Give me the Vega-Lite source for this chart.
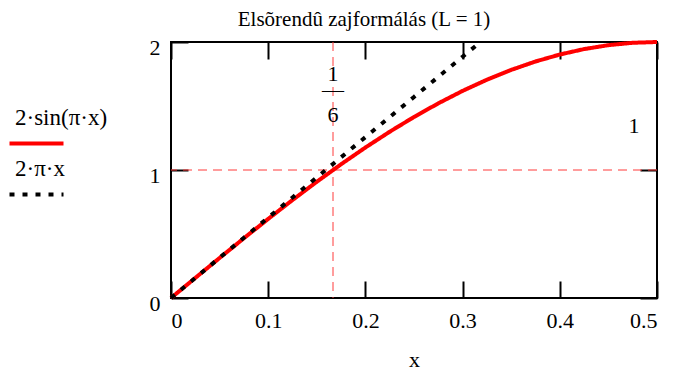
{
  "$schema": "https://vega.github.io/schema/vega-lite/v6.json",
  "width": 486,
  "height": 256,
  "autosize": {"type": "none"},
  "padding": {"left": 171, "top": 42, "right": 19, "bottom": 73},
  "background": "white",
  "title": {
    "text": "Elsõrendû zajformálás (L = 1)",
    "font": "Liberation Serif",
    "fontSize": 21,
    "fontWeight": "normal",
    "color": "black",
    "anchor": "middle",
    "baseline": "alphabetic",
    "dx": -50,
    "offset": -13
  },
  "config": {
    "view": {"stroke": "black", "strokeWidth": 2},
    "axis": {
      "domain": false,
      "grid": false,
      "tickColor": "black",
      "tickWidth": 2,
      "tickSize": -17,
      "labelFont": "Liberation Serif",
      "labelFontSize": 22,
      "labelColor": "black",
      "titleFont": "Liberation Serif",
      "titleFontSize": 22,
      "titleFontWeight": "normal",
      "titleColor": "black"
    },
    "legend": {
      "labelFont": "Liberation Serif",
      "labelFontSize": 23,
      "labelColor": "black"
    }
  },
  "datasets": {
    "curves": [
      {"x": 0.0, "y": 0.0, "f": "2·sin(π·x)"},
      {"x": 0.025, "y": 0.1569, "f": "2·sin(π·x)"},
      {"x": 0.05, "y": 0.3129, "f": "2·sin(π·x)"},
      {"x": 0.075, "y": 0.4669, "f": "2·sin(π·x)"},
      {"x": 0.1, "y": 0.618, "f": "2·sin(π·x)"},
      {"x": 0.125, "y": 0.7654, "f": "2·sin(π·x)"},
      {"x": 0.15, "y": 0.908, "f": "2·sin(π·x)"},
      {"x": 0.175, "y": 1.045, "f": "2·sin(π·x)"},
      {"x": 0.2, "y": 1.1756, "f": "2·sin(π·x)"},
      {"x": 0.225, "y": 1.2989, "f": "2·sin(π·x)"},
      {"x": 0.25, "y": 1.4142, "f": "2·sin(π·x)"},
      {"x": 0.275, "y": 1.5208, "f": "2·sin(π·x)"},
      {"x": 0.3, "y": 1.618, "f": "2·sin(π·x)"},
      {"x": 0.325, "y": 1.7053, "f": "2·sin(π·x)"},
      {"x": 0.35, "y": 1.782, "f": "2·sin(π·x)"},
      {"x": 0.375, "y": 1.8478, "f": "2·sin(π·x)"},
      {"x": 0.4, "y": 1.9021, "f": "2·sin(π·x)"},
      {"x": 0.425, "y": 1.9447, "f": "2·sin(π·x)"},
      {"x": 0.45, "y": 1.9754, "f": "2·sin(π·x)"},
      {"x": 0.475, "y": 1.9938, "f": "2·sin(π·x)"},
      {"x": 0.5, "y": 2.0, "f": "2·sin(π·x)"},
      {"x": 0.0, "y": 0.0, "f": "2·π·x"},
      {"x": 0.025, "y": 0.1571, "f": "2·π·x"},
      {"x": 0.05, "y": 0.3142, "f": "2·π·x"},
      {"x": 0.075, "y": 0.4712, "f": "2·π·x"},
      {"x": 0.1, "y": 0.6283, "f": "2·π·x"},
      {"x": 0.125, "y": 0.7854, "f": "2·π·x"},
      {"x": 0.15, "y": 0.9425, "f": "2·π·x"},
      {"x": 0.175, "y": 1.0996, "f": "2·π·x"},
      {"x": 0.2, "y": 1.2566, "f": "2·π·x"},
      {"x": 0.225, "y": 1.4137, "f": "2·π·x"},
      {"x": 0.25, "y": 1.5708, "f": "2·π·x"},
      {"x": 0.275, "y": 1.7279, "f": "2·π·x"},
      {"x": 0.3, "y": 1.885, "f": "2·π·x"},
      {"x": 0.3183, "y": 2.0, "f": "2·π·x"}
    ],
    "xmarker": [{"xm": 0.166667}],
    "ymarker": [{"ym": 1}],
    "notes": [
      {"tx": 0.166667, "ty": 1.75, "t": "1"},
      {"tx": 0.166667, "ty": 1.625, "t": "—"},
      {"tx": 0.166667, "ty": 1.43, "t": "6"},
      {"tx": 0.4763, "ty": 1.344, "t": "1"}
    ]
  },
  "layer": [
    {
      "data": {"name": "xmarker"},
      "mark": {"type": "rule", "color": "#ff3a3a", "strokeWidth": 1, "strokeDash": [9, 6]},
      "encoding": {
        "x": {
          "field": "xm",
          "type": "quantitative",
          "scale": {"domain": [0, 0.5], "nice": false, "zero": false},
          "axis": {"orient": "top", "labels": false, "title": null, "values": [0, 0.1, 0.2, 0.3, 0.4, 0.5]}
        }
      }
    },
    {
      "data": {"name": "ymarker"},
      "mark": {"type": "rule", "color": "#ff3a3a", "strokeWidth": 1, "strokeDash": [9, 6]},
      "encoding": {
        "y": {
          "field": "ym",
          "type": "quantitative",
          "scale": {"domain": [0, 2], "nice": false, "zero": false},
          "axis": {"orient": "right", "labels": false, "title": null, "values": [0, 1, 2]}
        }
      }
    },
    {
      "data": {"name": "curves"},
      "mark": {"type": "line", "strokeWidth": 4},
      "encoding": {
        "x": {
          "field": "x",
          "type": "quantitative",
          "scale": {"domain": [0, 0.5], "nice": false, "zero": false},
          "axis": {
            "orient": "bottom",
            "values": [0, 0.1, 0.2, 0.3, 0.4, 0.5],
            "format": "~g",
            "labelPadding": 29,
            "title": "x",
            "titlePadding": 18
          }
        },
        "y": {
          "field": "y",
          "type": "quantitative",
          "scale": {"domain": [0, 2], "nice": false, "zero": false},
          "axis": {
            "orient": "left",
            "values": [0, 1, 2],
            "format": "~g",
            "labelPadding": 28,
            "labelOffset": 5,
            "title": null
          }
        },
        "stroke": {
          "field": "f",
          "type": "nominal",
          "scale": {"domain": ["2·sin(π·x)", "2·π·x"], "range": ["#ff0000", "#000000"]},
          "legend": {
            "orient": "none",
            "legendX": -150,
            "legendY": 60,
            "title": null,
            "direction": "vertical",
            "padding": 0,
            "symbolType": "M-2,1.926H2",
            "symbolSize": 729,
            "symbolStrokeWidth": 4,
            "labelFont": "Liberation Serif",
            "labelFontSize": 23,
            "labelColor": "black",
            "labelOffset": -37,
            "rowPadding": 1
          }
        },
        "strokeDash": {
          "field": "f",
          "type": "nominal",
          "scale": {"domain": ["2·sin(π·x)", "2·π·x"], "range": [[1, 0], [5, 8]]},
          "legend": {
            "orient": "none",
            "legendX": -150,
            "legendY": 60,
            "title": null,
            "direction": "vertical",
            "padding": 0,
            "symbolType": "M-2,1.926H2",
            "symbolSize": 729,
            "symbolStrokeWidth": 4,
            "labelFont": "Liberation Serif",
            "labelFontSize": 23,
            "labelColor": "black",
            "labelOffset": -37,
            "rowPadding": 1
          }
        }
      }
    },
    {
      "data": {"name": "notes"},
      "mark": {"type": "text", "font": "Liberation Serif", "fontSize": 22, "color": "black", "baseline": "middle", "align": "center"},
      "encoding": {
        "x": {"field": "tx", "type": "quantitative", "scale": {"domain": [0, 0.5], "nice": false, "zero": false}, "axis": null},
        "y": {"field": "ty", "type": "quantitative", "scale": {"domain": [0, 2], "nice": false, "zero": false}, "axis": null},
        "text": {"field": "t"}
      }
    }
  ],
  "resolve": {"axis": {"x": "independent", "y": "independent"}}
}
